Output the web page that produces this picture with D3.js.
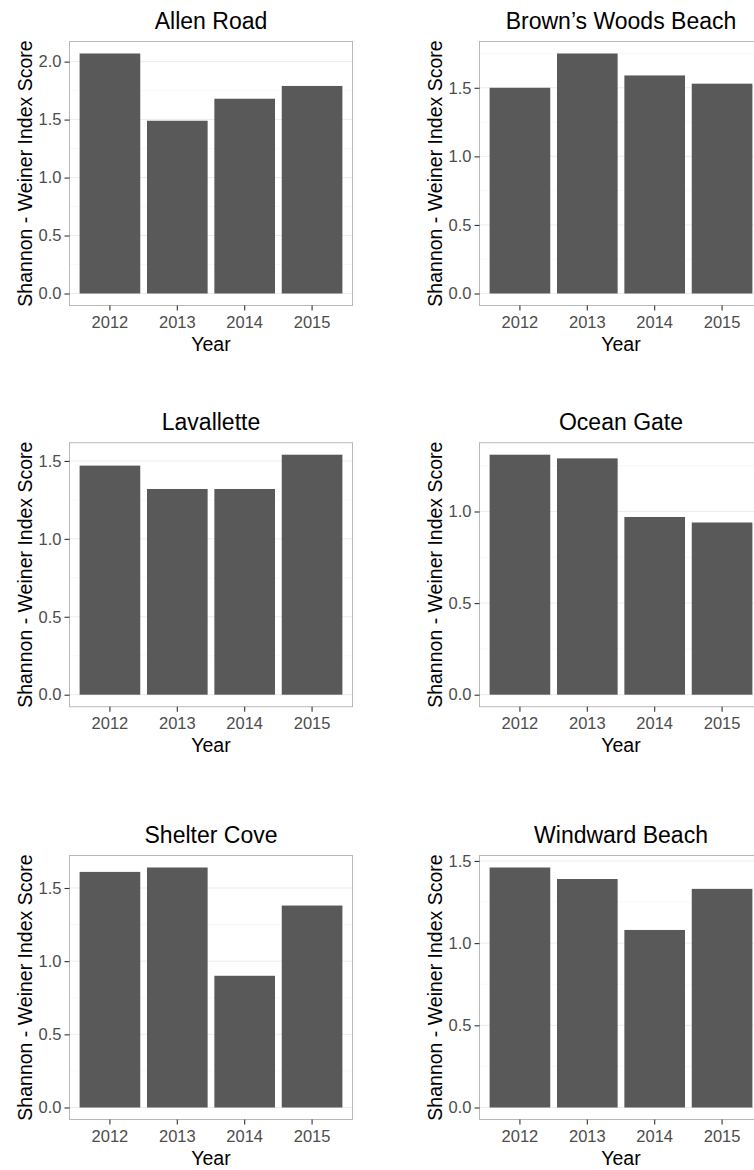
<!DOCTYPE html>
<html>
<head>
<meta charset="utf-8">
<script src="https://cdn.jsdelivr.net/npm/d3@7"></script>
<style>
  body { margin: 0; background: #fff; }
  svg { display: block; font-family: "Liberation Sans", Arial, sans-serif; }
</style>
</head>
<body>
<div id="chart"></div>
<script>
// values
var years = ["2012", "2013", "2014", "2015"];
var siteNames = ["Allen Road", "Brown\u2019s Woods Beach", "Lavallette", "Ocean Gate", "Shelter Cove", "Windward Beach"];
var allenRoad = [2.07, 1.49, 1.68, 1.79];
var brownsWoods = [1.50, 1.75, 1.59, 1.53];
var lavallette = [1.47, 1.32, 1.32, 1.54];
var oceanGate = [1.31, 1.29, 0.97, 0.94];
var shelterCove = [1.61, 1.64, 0.90, 1.38];
var windwardBeach = [1.46, 1.39, 1.08, 1.33];
var yTickValues = [0, 0.5, 1.0, 1.5, 2.0];
var yMinorValues = [0.25, 0.75, 1.25, 1.75];

var siteValues = [allenRoad, brownsWoods, lavallette, oceanGate, shelterCove, windwardBeach];

var width = 754, height = 1170;
// plot boxes: two columns, three rows
var colLeft = [69.5, 479.5];
var boxWidth = 283;
var rowTop = [41.5, 442.7, 855.5];
var boxHeight = 264;

var svg = d3.select("#chart").append("svg")
    .attr("width", width)
    .attr("height", height);

function drawPanel(i) {
    var values = siteValues[i];
    var L = colLeft[i % 2];
    var T = rowTop[Math.floor(i / 2)];
    var R = L + boxWidth;
    var B = T + boxHeight;

    var maxV = d3.max(values);
    var pad = maxV * 0.05;

    var x = d3.scaleBand()
        .domain(years)
        .range([L, R])
        .paddingInner(0.1)
        .paddingOuter(0.15);

    var y = d3.scaleLinear()
        .domain([-pad, maxV + pad])
        .range([B, T]);

    var g = svg.append("g");

    var ticks = yTickValues.filter(function(v) { return v <= maxV + pad; });
    var minor = yMinorValues.filter(function(v) { return v <= maxV + pad; });

    // grid
    g.selectAll(".minor").data(minor).enter().append("line")
        .attr("x1", L).attr("x2", R)
        .attr("y1", function(d) { return y(d); })
        .attr("y2", function(d) { return y(d); })
        .attr("stroke", "#f3f3f3")
        .attr("stroke-width", 0.6);

    g.selectAll(".major").data(ticks).enter().append("line")
        .attr("x1", L).attr("x2", R)
        .attr("y1", function(d) { return y(d); })
        .attr("y2", function(d) { return y(d); })
        .attr("stroke", "#ececec")
        .attr("stroke-width", 1);

    // bars
    g.selectAll("rect.bar").data(values).enter().append("rect")
        .attr("class", "bar")
        .attr("x", function(d, j) { return x(years[j]); })
        .attr("width", x.bandwidth())
        .attr("y", function(d) { return y(d); })
        .attr("height", function(d) { return y(0) - y(d); })
        .attr("fill", "#595959");

    // panel border
    g.append("rect")
        .attr("x", L).attr("y", T)
        .attr("width", boxWidth).attr("height", boxHeight)
        .attr("fill", "none")
        .attr("stroke", "#b8b8b8")
        .attr("stroke-width", 1);

    // y axis
    var yAxis = d3.axisLeft(y)
        .tickValues(ticks)
        .tickSize(5)
        .tickPadding(3)
        .tickFormat(d3.format(".1f"));

    var ya = g.append("g")
        .attr("transform", "translate(" + L + ",0)")
        .call(yAxis);
    ya.select(".domain").remove();
    ya.selectAll("line").attr("stroke", "#333").attr("stroke-width", 1.1);
    ya.selectAll("text")
        .attr("fill", "#4d4d4d")
        .style("font-size", "16.5px")
        .style("font-family", "'Liberation Sans', Arial, sans-serif");

    // x axis
    var xAxis = d3.axisBottom(x)
        .tickSize(5)
        .tickPadding(6);

    var xa = g.append("g")
        .attr("transform", "translate(0," + B + ")")
        .call(xAxis);
    xa.select(".domain").remove();
    xa.selectAll("line").attr("stroke", "#333").attr("stroke-width", 1.1);
    xa.selectAll("text")
        .attr("fill", "#4d4d4d")
        .style("font-size", "16.5px")
        .style("font-family", "'Liberation Sans', Arial, sans-serif");

    // title
    g.append("text")
        .attr("x", (L + R) / 2)
        .attr("y", T - 12.5)
        .attr("text-anchor", "middle")
        .style("font-size", "23px")
        .attr("fill", "#000")
        .text(siteNames[i]);

    // x title
    g.append("text")
        .attr("x", (L + R) / 2)
        .attr("y", B + 45)
        .attr("text-anchor", "middle")
        .style("font-size", "19.5px")
        .attr("fill", "#000")
        .text("Year");

    // y title
    g.append("text")
        .attr("transform", "translate(" + (L - 38) + "," + ((T + B) / 2) + ") rotate(-90)")
        .attr("text-anchor", "middle")
        .style("font-size", "19.5px")
        .attr("fill", "#000")
        .text("Shannon - Weiner Index Score");
}

for (var i = 0; i < siteValues.length; i++) {
    drawPanel(i);
}
</script>
</body>
</html>
